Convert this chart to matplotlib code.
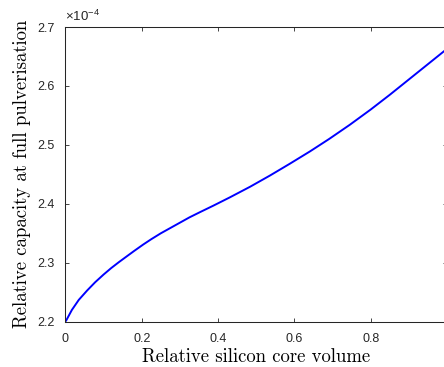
import matplotlib
matplotlib.use('Agg')
import matplotlib.pyplot as plt

# curve (y in units of 1e-4)
vol = [0.002, 0.017, 0.035, 0.057, 0.078, 0.100, 0.120, 0.140, 0.161, 0.180,
       0.204, 0.225, 0.250, 0.275, 0.300, 0.325, 0.353, 0.388, 0.431, 0.484,
       0.536, 0.588, 0.641, 0.691, 0.745, 0.800, 0.850, 0.900, 0.950, 1.000]
cap = [2.202, 2.220, 2.237, 2.253, 2.267, 2.280, 2.291, 2.301, 2.311, 2.320,
       2.331, 2.340, 2.350, 2.359, 2.368, 2.377, 2.386, 2.397, 2.411, 2.429,
       2.448, 2.468, 2.489, 2.510, 2.534, 2.560, 2.585, 2.611, 2.637, 2.663]

xticks = [0, 0.2, 0.4, 0.6, 0.8, 1]
xticklabels = ['0', '0.2', '0.4', '0.6', '0.8', '1']
yticks = [2.2, 2.3, 2.4, 2.5, 2.6, 2.7]
yticklabels = ['2.2', '2.3', '2.4', '2.5', '2.6', '2.7']

plt.rcParams['mathtext.fontset'] = 'custom'
plt.rcParams['mathtext.rm'] = 'Liberation Sans'
plt.rcParams['font.family'] = 'Liberation Sans'

fig = plt.figure(figsize=(4.44, 3.67), dpi=100)
ax = fig.add_axes([0.1473, 0.1234, 0.8595, 0.803])

ax.plot(vol, cap, color='#0000ff', lw=1.4)

ax.set_xlim(0, 1)
ax.set_ylim(2.2, 2.7)
ax.set_xticks(xticks)
ax.set_xticklabels(xticklabels)
ax.set_yticks(yticks)
ax.set_yticklabels(yticklabels)

dark = '#262626'
for s in ax.spines.values():
    s.set_color(dark)
    s.set_linewidth(0.75)
ax.tick_params(direction='in', length=3, width=0.6, colors=dark, labelsize=9,
               top=True, right=True, pad=8)

ax.set_xlabel('Relative silicon core volume', family='cmr10', fontsize=13.5, labelpad=2)
ax.set_ylabel('Relative capacity at full pulverisation', family='cmr10', fontsize=13.5, labelpad=4)

ax.text(0.0, 1.01, r'$\times\mathrm{10}^{\mathrm{-4}}$', transform=ax.transAxes,
        fontsize=9.5, color=dark, ha='left', va='bottom')

fig.savefig('out.png', dpi=100)
